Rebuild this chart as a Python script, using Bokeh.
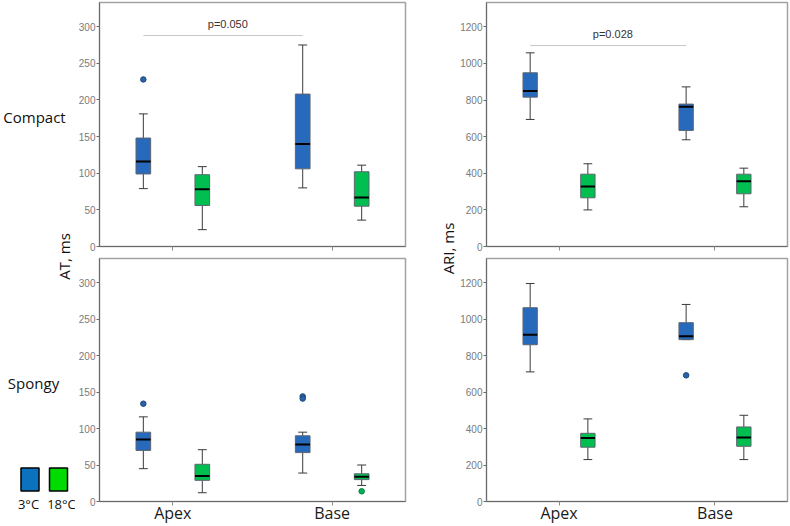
import math
from bokeh.plotting import figure
from bokeh.models import FactorRange, Range1d, FixedTicker, ColumnDataSource, Label
from bokeh.transform import dodge
from bokeh.layouts import row, column
from bokeh.embed import file_html
from bokeh.resources import INLINE
from bokeh.core.properties import value

# ---------------- data ----------------
regions = ["Apex", "Base"]
temps = ["3°C", "18°C"]

# per region: [whisker low, Q1, median, Q3, whisker high]
at_compact_3c = [[79, 99, 116, 148, 181], [80, 106, 140, 208, 275]]
at_compact_18c = [[23, 56, 78, 98, 109], [36, 55, 67, 102, 111]]
at_spongy_3c = [[45, 70, 85, 95, 116], [39, 67, 78, 90, 95]]
at_spongy_18c = [[12, 29, 35, 51, 71], [22, 30, 34, 38, 50]]
ari_compact_3c = [[694, 816, 850, 949, 1058], [583, 634, 763, 778, 872]]
ari_compact_18c = [[200, 266, 328, 395, 452], [217, 288, 357, 395, 428]]
ari_spongy_3c = [[711, 860, 915, 1063, 1196], [888, 888, 906, 981, 1081]]
ari_spongy_18c = [[230, 298, 349, 374, 453], [230, 303, 351, 409, 473]]

# outliers: (region, value)
at_compact_3c_out = [("Apex", 228)]
at_compact_18c_out = []
at_spongy_3c_out = [("Apex", 134), ("Base", 144), ("Base", 141)]
at_spongy_18c_out = [("Base", 14)]
ari_compact_3c_out = []
ari_compact_18c_out = []
ari_spongy_3c_out = [("Base", 692)]
ari_spongy_18c_out = []

# significance brackets: (text, bracket level, text level)
at_compact_p = ("p=0.050", 288, 304)
ari_compact_p = ("p=0.028", 1098, 1160)

at_ticks = [0, 50, 100, 150, 200, 250, 300]
ari_ticks = [0, 200, 400, 600, 800, 1000, 1200]
at_max = 333
ari_max = 1333

# ---------------- style ----------------
BLUE = "#2769bb"
GREEN = "#00bf50"
BLUE_OUT = ("#2a63a6", "#1c4677")
GREEN_OUT = ("#00b050", "#00803a")
LEG_BLUE = "#0b72c0"
LEG_GREEN = "#00dc00"
OFF = 0.185
BW = 0.092
CW = 0.056
TXT_FONT = "Open Sans"
TICK_FONT = "Liberation Sans"


def draw_box(p, xr, stats, off, fill, outliers, out_style):
    src = ColumnDataSource(dict(
        cat=regions,
        low=[s[0] for s in stats], q1=[s[1] for s in stats], med=[s[2] for s in stats],
        q3=[s[3] for s in stats], high=[s[4] for s in stats]))
    xc = dodge("cat", off, range=xr)
    xl = dodge("cat", off - CW / 2, range=xr)
    xh = dodge("cat", off + CW / 2, range=xr)
    bl = dodge("cat", off - BW / 2, range=xr)
    bh = dodge("cat", off + BW / 2, range=xr)
    wc = "#3a3a3a"
    p.segment(x0=xc, y0="low", x1=xc, y1="q1", source=src, line_color=wc, line_width=1)
    p.segment(x0=xc, y0="q3", x1=xc, y1="high", source=src, line_color=wc, line_width=1)
    p.segment(x0=xl, y0="low", x1=xh, y1="low", source=src, line_color=wc, line_width=1)
    p.segment(x0=xl, y0="high", x1=xh, y1="high", source=src, line_color=wc, line_width=1)
    p.vbar(x=xc, width=BW, bottom="q1", top="q3", source=src,
           fill_color=fill, line_color="#5d6570", line_width=1)
    p.segment(x0=bl, y0="med", x1=bh, y1="med", source=src, line_color="black", line_width=2)
    if outliers:
        osrc = ColumnDataSource(dict(cat=[o[0] for o in outliers], val=[o[1] for o in outliers]))
        p.scatter(x=dodge("cat", off, range=xr), y="val", source=osrc, size=5.5,
                  fill_color=out_style[0], line_color=out_style[1], line_width=1)


def panel(b3, b18, o3, o18, ymax, ticks, pad, width, height, mbl, mbr, mbt, mbb,
          show_x_labels, pval=None):
    xr = FactorRange(factors=regions, range_padding=pad)
    p = figure(x_range=xr, y_range=Range1d(0, ymax), width=width, height=height,
               output_backend="svg", toolbar_location=None,
               min_border_left=mbl, min_border_right=mbr, min_border_top=mbt, min_border_bottom=mbb,
               background_fill_color="white", border_fill_color="white")
    p.xgrid.visible = False
    p.ygrid.visible = False
    p.outline_line_color = "#a3a3a3"
    p.outline_line_width = 1.5

    draw_box(p, xr, b3, -OFF, BLUE, o3, BLUE_OUT)
    draw_box(p, xr, b18, OFF, GREEN, o18, GREEN_OUT)

    if pval is not None:
        psrc = ColumnDataSource(dict(c0=[regions[0]], c1=[regions[1]],
                                     y=[pval[1]], ty=[pval[2]], t=[pval[0]]))
        p.segment(x0=dodge("c0", -OFF, range=xr), y0="y", x1=dodge("c1", -OFF, range=xr), y1="y",
                  source=psrc, line_color="#c8c8c8", line_width=1)
        p.text(x=dodge("c1", -OFF - 0.5 + 0.03, range=xr), y="ty", text="t", source=psrc,
               text_align="center", text_baseline="middle", text_font_size="11px",
               text_font=value(TICK_FONT), text_color="#333333")

    ya = p.yaxis[0]
    ya.ticker = FixedTicker(ticks=ticks)
    ya.axis_line_color = "#6a6a6a"
    ya.major_tick_line_color = "#6a6a6a"
    ya.major_tick_out = 3
    ya.major_tick_in = 0
    ya.minor_tick_out = 0
    ya.minor_tick_in = 0
    ya.major_label_standoff = 1
    ya.major_label_text_font = TICK_FONT
    ya.major_label_text_font_size = "10px"
    ya.major_label_text_color = "#7a7a7a"

    xa = p.xaxis[0]
    xa.axis_line_color = "#6a6a6a"
    xa.major_tick_line_color = "#8a8a8a"
    xa.major_tick_out = 4
    xa.major_tick_in = 0
    if show_x_labels:
        xa.major_label_standoff = -4
        xa.major_label_text_font = TXT_FONT
        xa.major_label_text_font_size = "16px"
        xa.major_label_text_color = "#1a1a1a"
        xa.major_label_text_line_height = 0.9
    else:
        xa.major_label_standoff = 0
        xa.major_label_text_font_size = "1px"
        xa.major_label_text_alpha = 0
        xa.major_label_overrides = {r: "" for r in regions}
    return p


def text_fig(w, h):
    f = figure(width=w, height=h, x_range=Range1d(0, w), y_range=Range1d(h, 0),
               output_backend="svg", toolbar_location=None, min_border=0,
               x_axis_location=None, y_axis_location=None, outline_line_color=None,
               background_fill_color="white", border_fill_color="white")
    f.grid.visible = False
    return f


def lab(f, x, y, text, size, angle=0.0, color="#111111"):
    f.add_layout(Label(x=x, y=y, text=text, text_align="center", text_baseline="middle",
                       text_font=TXT_FONT, text_font_size=size, text_color=color,
                       angle=angle, angle_units="rad"))


H_TOP, H_BOT = 256, 270
# left column (AT)
tl = panel(at_compact_3c, at_compact_18c, at_compact_3c_out, at_compact_18c_out,
           at_max, at_ticks, -0.04, 332, H_TOP, 23, 2, 2, 10, False, at_compact_p)
bl = panel(at_spongy_3c, at_spongy_18c, at_spongy_3c_out, at_spongy_18c_out,
           at_max, at_ticks, -0.04, 332, H_BOT, 23, 2, 2, 24, True)
# right column (ARI)
tr = panel(ari_compact_3c, ari_compact_18c, ari_compact_3c_out, ari_compact_18c_out,
           ari_max, ari_ticks, -0.035, 333, H_TOP, 27, 3, 2, 10, False, ari_compact_p)
br = panel(ari_spongy_3c, ari_spongy_18c, ari_spongy_3c_out, ari_spongy_18c_out,
           ari_max, ari_ticks, -0.035, 333, H_BOT, 27, 3, 2, 24, True)

# left text strip
lt = text_fig(75, 526)
lab(lt, 34, 116, "Compact", "15px")
lab(lt, 33, 382, "Spongy", "15px")
lab(lt, 63, 256, "AT, ms", "15px", angle=math.pi / 2)
lt.rect(x=[29.5, 58], y=[479, 479], width=18, height=23, width_units="screen",
        height_units="screen", fill_color=[LEG_BLUE, LEG_GREEN], line_color="black", line_width=1.5)
lab(lt, 28, 503, temps[0], "13px")
lab(lt, 61, 503, temps[1], "13px")

# middle text strip
mt = text_fig(50, 526)
lab(mt, 40, 248, "ARI, ms", "15px", angle=math.pi / 2)

layout = row(lt, column(tl, bl), mt, column(tr, br))

open("out.html", "w").write(file_html(layout, INLINE))
